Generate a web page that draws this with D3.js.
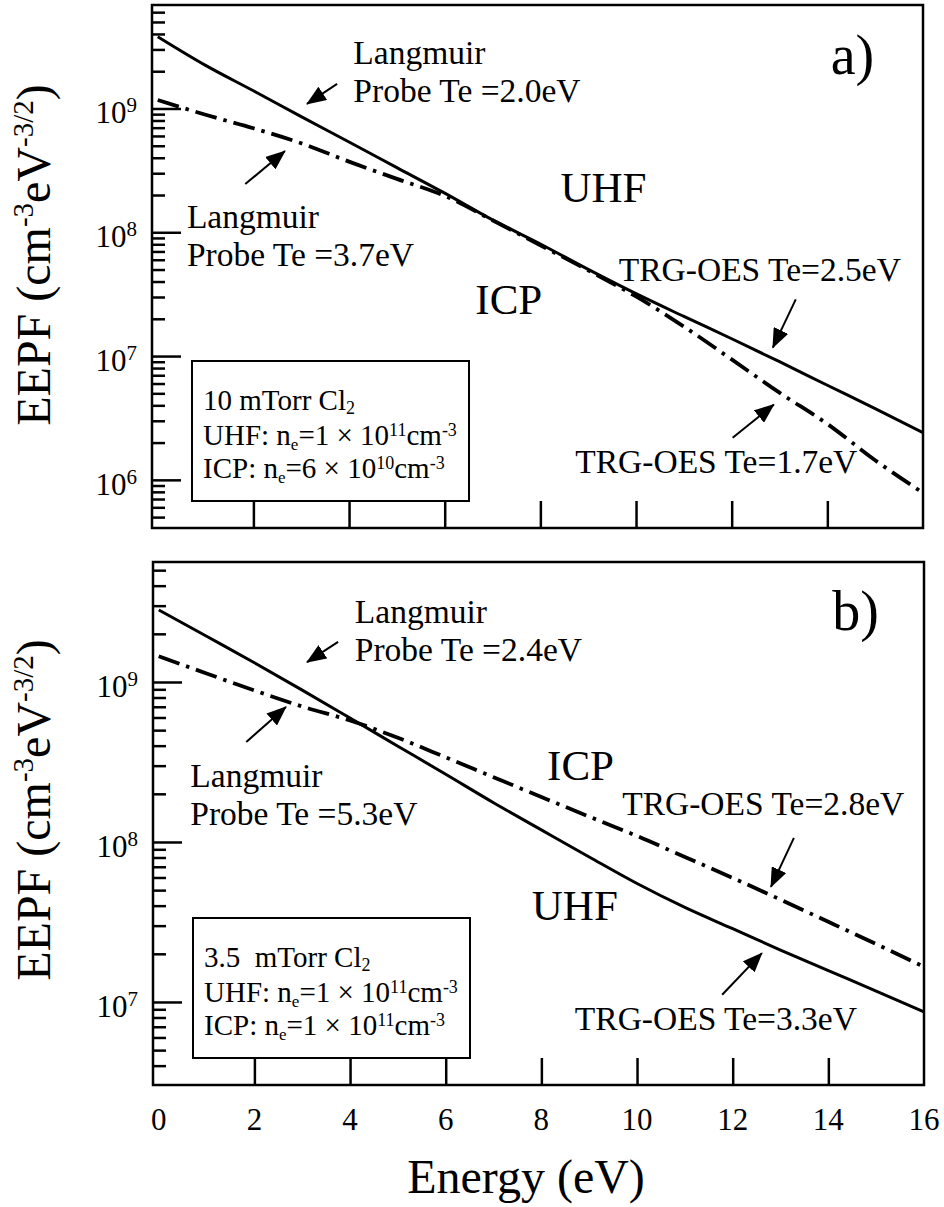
<!DOCTYPE html>
<html>
<head>
<meta charset="utf-8">
<script src="https://cdn.jsdelivr.net/npm/d3@7"></script>
<style>
  html, body { margin: 0; padding: 0; background: #fff; }
  svg { display: block; }
  text { font-family: 'Liberation Serif', 'Times New Roman', serif; fill: #000; }
</style>
</head>
<body>
<svg id="chart" width="944" height="1207"></svg>
<script>
// Electron energy grid (eV)
const energy = [0, 1, 2, 3, 4, 5, 6, 7, 8, 9, 10, 11, 12, 13, 14, 15, 16];

// a) 10 mTorr Cl2 — EEPF (cm^-3 eV^-3/2)
const uhfA = [3.8e9, 2.23e9, 1.39e9, 8.6e8, 5.36e8, 3.33e8, 2.07e8, 1.26e8, 8.04e7,
              5.01e7, 3.19e7, 2.09e7, 1.38e7, 9.0e6, 5.81e6, 3.76e6, 2.4e6];
const icpA = [1.17e9, 8.9e8, 6.92e8, 5.24e8, 3.72e8, 2.7e8, 1.97e8, 1.25e8, 7.85e7,
              4.92e7, 3.03e7, 1.73e7, 9.4e6, 5.06e6, 2.83e6, 1.44e6, 7.85e5];

// b) 3.5 mTorr Cl2 — EEPF (cm^-3 eV^-3/2)
const uhfB = [2.82e9, 1.93e9, 1.32e9, 8.9e8, 5.95e8, 3.97e8, 2.65e8, 1.76e8, 1.19e8,
              8.06e7, 5.5e7, 3.9e7, 2.87e7, 2.11e7, 1.57e7, 1.17e7, 8.66e6];
const icpB = [1.45e9, 1.13e9, 8.86e8, 7.03e8, 5.75e8, 4.48e8, 3.38e8, 2.54e8, 1.91e8,
              1.44e8, 1.09e8, 8.06e7, 5.96e7, 4.36e7, 3.17e7, 2.3e7, 1.66e7];

// Axis ticks
const xTickLabels = [0, 2, 4, 6, 8, 10, 12, 14, 16];
const xInnerTicks = [2, 4, 6, 8, 10, 12, 14];
const decadesA = [6, 7, 8, 9];
const decadesB = [7, 8, 9];

// Text notes anchored in data space (energy, EEPF) at the first baseline
const notesA = [
  { lines: ["Langmuir", "Probe Te =2.0eV"], e: 4.09, v: 2.29e9, kind: "note" },
  { lines: ["Langmuir", "Probe Te =3.7eV"], e: 0.61, v: 1.08e8, kind: "note" },
  { lines: ["UHF"], e: 8.42, v: 1.75e8, kind: "big" },
  { lines: ["ICP"], e: 6.64, v: 2.17e7, kind: "big" },
  { lines: ["TRG-OES Te=2.5eV"], e: 9.64, v: 4.01e7, kind: "note" },
  { lines: ["TRG-OES Te=1.7eV"], e: 8.73, v: 1.14e6, kind: "note" },
  { lines: ["a)"], e: 14.07, v: 1.9e9, kind: "tag" }
];
const notesB = [
  { lines: ["Langmuir", "Probe Te =2.4eV"], e: 4.1, v: 2.34e9, kind: "note" },
  { lines: ["Langmuir", "Probe Te =5.3eV"], e: 0.66, v: 2.21e8, kind: "note" },
  { lines: ["ICP"], e: 8.12, v: 2.44e8, kind: "big" },
  { lines: ["TRG-OES Te=2.8eV"], e: 9.69, v: 1.47e8, kind: "note" },
  { lines: ["UHF"], e: 7.8, v: 3.25e7, kind: "big" },
  { lines: ["TRG-OES Te=3.3eV"], e: 8.7, v: 6.68e6, kind: "note" },
  { lines: ["b)"], e: 14.08, v: 2.11e9, kind: "tag" }
];

// Pointer arrows: tail -> head, in data space
const arrowsA = [
  { from: [3.75, 1.58e9], to: [3.12, 1.09e9] },
  { from: [1.83, 2.45e8], to: [2.66, 4.53e8] },
  { from: [13.34, 2.87e7], to: [12.86, 1.17e7] },
  { from: [12.02, 2.19e6], to: [12.88, 4.05e6] }
];
const arrowsB = [
  { from: [3.75, 1.78e9], to: [3.10, 1.33e9] },
  { from: [1.83, 4.22e8], to: [2.66, 6.98e8] },
  { from: [13.28, 1.06e8], to: [12.80, 5.24e7] },
  { from: [11.78, 1.11e7], to: [12.61, 2.02e7] }
];

// Condition boxes
const boxA = { pressure: "10 mTorr Cl", uhfExp: "11", uhfMant: "1", icpExp: "10", icpMant: "6" };
const boxB = { pressure: "3.5\u00a0\u00a0mTorr Cl", uhfExp: "11", uhfMant: "1", icpExp: "11", icpMant: "1" };

// ---------------------------------------------------------------------------
const svg = d3.select("#chart");
const FONT_SIZES = { note: 33.5, big: 43, tag: 56 };

const panels = [
  { key: "a", left: 152, right: 923, top: 5, bottom: 528,
    logMin: 5.611, logMax: 9.836, decades: decadesA,
    uhf: uhfA, icp: icpA, notes: notesA, arrows: arrowsA, box: boxA,
    labelCenter: 255, showXLabels: false },
  { key: "b", left: 153, right: 924, top: 562, bottom: 1085,
    logMin: 6.481, logMax: 9.75, decades: decadesB,
    uhf: uhfB, icp: icpB, notes: notesB, arrows: arrowsB, box: boxB,
    labelCenter: 810, showXLabels: true }
];

const defs = svg.append("defs");
// Arrow head marker
defs.append("marker")
  .attr("id", "head")
  .attr("viewBox", "0 0 20 16")
  .attr("refX", 19).attr("refY", 8)
  .attr("markerWidth", 20).attr("markerHeight", 16)
  .attr("markerUnits", "userSpaceOnUse")
  .attr("orient", "auto")
  .append("path").attr("d", "M0,0 L20,8 L0,16 Z").attr("fill", "#000");

panels.forEach(p => {
  const x = d3.scaleLinear().domain([-0.12, 16]).range([p.left, p.right]);
  const y = d3.scaleLog().domain([10 ** p.logMin, 10 ** p.logMax]).range([p.bottom, p.top]);
  const g = svg.append("g").attr("class", "panel-" + p.key);

  // clip for curves
  const clipId = "clip-" + p.key;
  defs.append("clipPath").attr("id", clipId)
    .append("rect").attr("x", p.left).attr("y", p.top)
    .attr("width", p.right - p.left).attr("height", p.bottom - p.top);

  // y ticks: majors and minors (inward)
  const majors = p.decades.map(d => 10 ** d);
  const minors = [];
  for (let d = Math.floor(p.logMin); d <= Math.ceil(p.logMax); d++) {
    for (let m = 2; m <= 9; m++) {
      const v = m * 10 ** d;
      if (Math.log10(v) > p.logMin && Math.log10(v) < p.logMax) minors.push(v);
    }
  }
  const yMajor = g.append("g").attr("transform", `translate(${p.left},0)`)
    .call(d3.axisLeft(y).tickValues(majors).tickSize(-29).tickFormat(""));
  const yMinor = g.append("g").attr("transform", `translate(${p.left},0)`)
    .call(d3.axisLeft(y).tickValues(minors).tickSize(-13).tickFormat(""));
  [yMajor, yMinor].forEach(a => {
    a.select(".domain").remove();
    a.selectAll(".tick line").attr("stroke", "#000").attr("stroke-width", 2.5);
  });

  // y tick labels 10^n
  p.decades.forEach(d => {
    const t = g.append("text")
      .attr("x", p.left - 15)
      .attr("y", y(10 ** d) + 15)
      .attr("text-anchor", "end")
      .attr("font-size", 31);
    t.append("tspan").text("10");
    t.append("tspan").attr("font-size", 21).attr("dy", -11).text(d);
  });

  // x ticks (inward from bottom)
  const xa = g.append("g").attr("transform", `translate(0,${p.bottom})`)
    .call(d3.axisBottom(x).tickValues(xInnerTicks).tickSize(-27).tickFormat(""));
  xa.select(".domain").remove();
  xa.selectAll(".tick line").attr("stroke", "#000").attr("stroke-width", 2.5);

  if (p.showXLabels) {
    g.selectAll(".xlab").data(xTickLabels).enter().append("text")
      .attr("class", "xlab")
      .attr("x", d => x(d))
      .attr("y", p.bottom + 45)
      .attr("text-anchor", "middle")
      .attr("font-size", 31)
      .text(d => d);
  }

  // curves
  const line = d3.line()
    .x((d, i) => x(energy[i]))
    .y(d => y(d))
    .curve(d3.curveMonotoneX);
  const curves = g.append("g").attr("clip-path", `url(#${clipId})`);
  curves.append("path").datum(p.uhf)
    .attr("d", line).attr("fill", "none")
    .attr("stroke", "#000").attr("stroke-width", 3)
    .attr("stroke-linejoin", "round");
  curves.append("path").datum(p.icp)
    .attr("d", line).attr("fill", "none")
    .attr("stroke", "#000").attr("stroke-width", 3.8)
    .attr("stroke-dasharray", "22,7,3.5,7");

  // frame
  g.append("rect")
    .attr("x", p.left).attr("y", p.top)
    .attr("width", p.right - p.left).attr("height", p.bottom - p.top)
    .attr("fill", "none").attr("stroke", "#000").attr("stroke-width", 2.5);

  // arrows
  g.selectAll(".arrow").data(p.arrows).enter().append("line")
    .attr("class", "arrow")
    .attr("x1", d => x(d.from[0])).attr("y1", d => y(d.from[1]))
    .attr("x2", d => x(d.to[0])).attr("y2", d => y(d.to[1]))
    .attr("stroke", "#000").attr("stroke-width", 2)
    .attr("marker-end", "url(#head)");

  // notes
  p.notes.forEach(n => {
    const fs = FONT_SIZES[n.kind];
    const t = g.append("text")
      .attr("x", x(n.e)).attr("y", y(n.v))
      .attr("font-size", fs);
    n.lines.forEach((ln, i) => {
      t.append("tspan").attr("x", x(n.e)).attr("dy", i === 0 ? 0 : 38).text(ln);
    });
  });

  // condition box
  const bx = p.left + 40, by = p.top + 356;
  g.append("rect").attr("x", bx).attr("y", by).attr("width", 277).attr("height", 140)
    .attr("fill", "#fff").attr("stroke", "#000").attr("stroke-width", 2);
  const tx = p.left + 51;
  const l1 = g.append("text").attr("x", tx).attr("y", p.top + 405).attr("font-size", 29);
  l1.append("tspan").text(p.box.pressure);
  l1.append("tspan").attr("font-size", 18).attr("dy", 4).text("2");

  const density = (row, label, mant, exp) => {
    const t = g.append("text").attr("x", tx).attr("y", p.top + row).attr("font-size", 29);
    t.append("tspan").text(label + ": n");
    t.append("tspan").attr("font-size", 17).attr("dy", 5).text("e");
    t.append("tspan").attr("dy", -5).text("=" + mant + " \u00d7 10");
    t.append("tspan").attr("font-size", 18).attr("dy", -9).text(exp);
    t.append("tspan").attr("dy", 9).text("cm");
    t.append("tspan").attr("font-size", 18).attr("dy", -9).text("-3");
  };
  density(440, "UHF", p.box.uhfMant, p.box.uhfExp);
  density(473, "ICP", p.box.icpMant, p.box.icpExp);

  // y axis title
  const yl = g.append("text")
    .attr("transform", `translate(50,${p.labelCenter}) rotate(-90)`)
    .attr("text-anchor", "middle")
    .attr("font-size", 48);
  yl.append("tspan").text("EEPF (cm");
  yl.append("tspan").attr("font-size", 29).attr("dy", -17).text("-3");
  yl.append("tspan").attr("dy", 17).text("eV");
  yl.append("tspan").attr("font-size", 29).attr("dy", -17).text("-3/2");
  yl.append("tspan").attr("dy", 17).text(")");
});

// x axis title
svg.append("text")
  .attr("x", 526).attr("y", 1193)
  .attr("text-anchor", "middle")
  .attr("font-size", 48)
  .text("Energy (eV)");
</script>
</body>
</html>
